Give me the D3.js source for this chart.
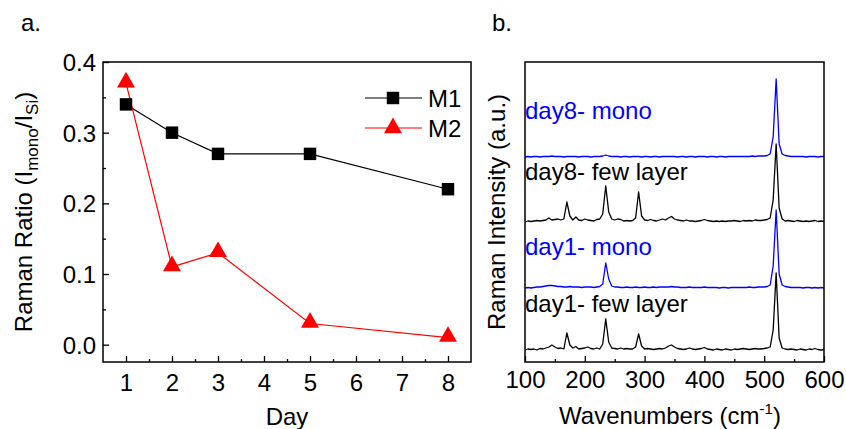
<!DOCTYPE html>
<html>
<head>
<meta charset="utf-8">
<script src="https://cdn.jsdelivr.net/npm/d3@7"></script>
<style>
body { margin: 0; background: #fff; }
svg text { font-family: "Liberation Sans", Arial, sans-serif; }
</style>
</head>
<body>
<svg id="fig" width="846" height="429"></svg>
<script>
// panel a data
var days = [1, 2, 3, 5, 8];
var m1 = [0.34, 0.30, 0.27, 0.27, 0.22];
var m2 = [0.37, 0.11, 0.13, 0.03, 0.01];
var dayTicks = [1, 2, 3, 4, 5, 6, 7, 8];
var ratioTicks = [0.0, 0.1, 0.2, 0.3, 0.4];

// panel b data (intensity, a.u. above each baseline)
var wn = [100,105,110,115,120,125,130,135,140,145,150,155,160,165,170,175,180,185,190,195,
  200,205,210,215,220,225,230,235,240,245,250,255,260,265,270,275,280,285,290,295,
  300,305,310,315,320,325,330,335,340,345,350,355,360,365,370,375,380,385,390,395,
  400,405,410,415,420,425,430,435,440,445,450,455,460,465,470,475,480,485,490,495,
  500,505,510,515,520,525,530,535,540,545,550,555,560,565,570,575,580,585,590,595,600];
var day1Few = [0,1,0.5,1,0,1.5,1,2,3,5,3,1.5,2,1,17,5,2,3.5,1,1.5,
  2,3,1.5,1,2,1,6,31,8,2,1.5,1,2,1,1.5,1,1,3,16,4,
  1,1.5,1,0.5,1,1.5,1,2,4,5,3,1.5,1,0.5,1,2,1,0.5,1,1.5,
  2.5,1,0.5,0,1,0.5,0,1,0.5,0,1,0.5,1,1.5,1,0.5,1,1.5,1,1,
  1.5,2,3,20,77,12,2,1,0.5,1,0.5,0,1,0.5,0,1,0.5,1.5,0.5,0,0.5];
var day1Mono = [0,0.5,0,0.5,1,1,1.5,2,2.5,2.5,2,1.5,1.5,1,1,1.5,1,1,1,0.5,
  1,1,1,0.5,1,1.5,4,25,9,2,1,1,0.5,0.5,1,0.5,0.5,1,0.5,0.5,
  1,0.5,0.5,1,0.5,1,1,1,1,1.5,1,1,0.5,0.5,0.5,1,0.5,0.5,0.5,0.5,
  1,0.5,0.5,0.5,0.5,0,0.5,0.5,0,0.5,0.5,0.5,0.5,0.5,0.5,1,0.5,0.5,1,1,
  1,1.5,3,22,78,14,3,1.5,1,0.5,0.5,0.5,0.5,0,0.5,0.5,0,0.5,0,0.5,0];
var day8Few = [0,1,0.5,1,1.5,1,1.5,2,4,2,2.5,3,2,3,20,6,2,5,2,1.5,
  3,2,1.5,1,2.5,3,8,36,10,3,2,3,2.5,1,1.5,1,1.5,4,30,6,
  2,1.5,2.5,1.5,1,2,3,2,4,5.5,3,2,1.5,1,2,1,1,0.5,1,1.5,
  2.5,1.5,1,0.5,1,0.5,1,0.5,1,1,1.5,1,0.5,1.5,1,1.5,1,2,1.5,1.5,
  2,2.5,4,22,78,14,3,1,1.5,1,0.5,1.5,1,0.5,1,0.5,1,1.5,0.5,1,0.5];
var day8Mono = [0,0.5,0,0.5,0.5,0,0.5,0.5,0.5,1,0.5,0.5,0.5,0,0.5,0.5,0.5,0.5,0,0.5,
  0.5,0.5,0,0.5,0.5,0.5,1,2,1,0.5,0.5,0.5,0,0.5,0.5,0,0.5,0.5,0.5,0,
  0.5,0.5,0,0.5,0.5,0,0.5,0.5,0.5,0.5,0.5,0,0.5,0.5,0,0.5,0.5,0,0.5,0.5,
  0.5,0,0.5,0.5,0,0.5,0.5,0,0.5,0.5,0.5,0.5,0.5,0.5,0.5,0.5,1,0.5,1,1,
  1,1.5,3,20,78,13,3,1.5,1,0.5,0.5,0.5,0.5,0.5,0,0.5,0.5,0.5,0,0.5,0.5];
var spectra = [day1Few, day1Mono, day8Few, day8Mono];
var spectraNames = ["day1- few layer", "day1- mono", "day8- few layer", "day8- mono"];
var spectraOffsets = [12, 74, 140, 205];
var spectraColors = ["#000000", "#0000ff", "#000000", "#0000ff"];
var labelLevels = [50, 107, 182, 243];
var wnTicks = [100, 200, 300, 400, 500, 600];

var svg = d3.select("#fig");
var FS = 24;

// ---------- panel a ----------
var xa = d3.scaleLinear().domain([0.5, 8.5]).range([103, 471]);
var ya = d3.scaleLinear().domain([-0.0245, 0.4]).range([362, 62]);

var ga = svg.append("g");

var axA = d3.axisBottom(xa).tickValues(dayTicks).tickSize(-6).tickPadding(12).tickFormat(d3.format("d"));
var axAminor = d3.axisBottom(xa).tickValues(d3.range(1.5, 8.5, 1)).tickSize(-3).tickFormat("");
var ayA = d3.axisLeft(ya).tickValues(ratioTicks).tickSize(-6).tickPadding(7).tickFormat(d3.format(".1f"));
var ayAminor = d3.axisLeft(ya).tickValues([0.05, 0.15, 0.25, 0.35]).tickSize(-3).tickFormat("");

var styleAxis = function(g){
    g.select(".domain").remove();
    g.selectAll("line").attr("stroke", "#000").attr("stroke-width", 1.3);
    g.selectAll("text").attr("font-size", FS).attr("font-family", "Liberation Sans, Arial, sans-serif").attr("fill", "#000");
};

ga.append("g").attr("transform", "translate(0,362)").call(axA).call(styleAxis);
ga.append("g").attr("transform", "translate(0,362)").call(axAminor).call(styleAxis);
ga.append("g").attr("transform", "translate(103,0)").call(ayA).call(styleAxis);
ga.append("g").attr("transform", "translate(103,0)").call(ayAminor).call(styleAxis);

ga.append("rect").attr("x", 103).attr("y", 62).attr("width", 368).attr("height", 300)
    .attr("fill", "none").attr("stroke", "#000").attr("stroke-width", 1.5);

// fix label baselines
ga.selectAll(".tick text").each(function(){
    var t = d3.select(this);
    if (t.attr("x") != null && +t.attr("x") < 0) { t.attr("dy", "0.36em"); }
    else { t.attr("dy", "0.72em"); }
});

var lineA = d3.line().x(function(d){ return xa(d[0]); }).y(function(d){ return ya(d[1]); });
var ptsM1 = days.map(function(d, i){ return [d, m1[i]]; });
var ptsM2 = days.map(function(d, i){ return [d, m2[i]]; });

ga.append("path").attr("d", lineA(ptsM1)).attr("fill", "none").attr("stroke", "#000").attr("stroke-width", 1.2);
ga.append("path").attr("d", lineA(ptsM2)).attr("fill", "none").attr("stroke", "#ff0000").attr("stroke-width", 1.2);

var sq = d3.symbol().type(d3.symbolSquare).size(155);
var tri = d3.symbol().type(d3.symbolTriangle).size(140);

ga.selectAll(".m1").data(ptsM1).enter().append("path")
    .attr("d", sq).attr("fill", "#000")
    .attr("transform", function(d){ return "translate(" + xa(d[0]) + "," + ya(d[1]) + ")"; });
ga.selectAll(".m2").data(ptsM2).enter().append("path")
    .attr("d", tri).attr("fill", "#ff0000")
    .attr("transform", function(d){ return "translate(" + xa(d[0]) + "," + (ya(d[1]) - 1) + ")"; });

// legend
var legA = [["M1", "#000", sq, 98], ["M2", "#ff0000", tri, 128]];
legA.forEach(function(l){
    ga.append("line").attr("x1", 365).attr("x2", 422).attr("y1", l[3]).attr("y2", l[3])
        .attr("stroke", l[1]).attr("stroke-width", 1.2);
    ga.append("path").attr("d", l[2]).attr("fill", l[1]).attr("transform", "translate(393," + l[3] + ")");
    ga.append("text").attr("x", 428).attr("y", l[3]).attr("dy", "0.36em").attr("font-size", FS).text(l[0]);
});

// titles
ga.append("text").attr("x", 287).attr("y", 425).attr("text-anchor", "middle").attr("font-size", FS).text("Day");
var tA = ga.append("text").attr("transform", "translate(32,212) rotate(-90)").attr("text-anchor", "middle").attr("font-size", FS);
tA.append("tspan").text("Raman Ratio (I");
tA.append("tspan").attr("font-size", 17).attr("dy", 6).text("mono");
tA.append("tspan").attr("dy", -6).text("/I");
tA.append("tspan").attr("font-size", 17).attr("dy", 6).text("Si");
tA.append("tspan").attr("dy", -6).text(")");

svg.append("text").attr("x", 21).attr("y", 31).attr("font-size", FS).text("a.");
svg.append("text").attr("x", 492).attr("y", 31).attr("font-size", FS).text("b.");

// ---------- panel b ----------
var xb = d3.scaleLinear().domain([100, 600]).range([525, 824]);
var yb = d3.scaleLinear().domain([0, 300]).range([362, 62]);
var gb = svg.append("g");

var axB = d3.axisBottom(xb).tickValues(wnTicks).tickSize(-6).tickPadding(9);
var axBminor = d3.axisBottom(xb).tickValues([150, 250, 350, 450, 550]).tickSize(-3).tickFormat("");
gb.append("g").attr("transform", "translate(0,362)").call(axB).call(styleAxis);
gb.append("g").attr("transform", "translate(0,362)").call(axBminor).call(styleAxis);
gb.selectAll(".tick text").attr("dy", "0.72em");

var lineB = d3.line().x(function(d){ return xb(d[0]); }).y(function(d){ return yb(d[1]); });

spectra.forEach(function(s, k){
    var pts = wn.map(function(w, i){ return [w, s[i] + spectraOffsets[k]]; });
    gb.append("path").attr("d", lineB(pts)).attr("fill", "none")
        .attr("stroke", spectraColors[k]).attr("stroke-width", 1.3).attr("stroke-linejoin", "round");
    gb.append("text").attr("x", 525).attr("y", yb(labelLevels[k])).attr("font-size", FS)
        .attr("fill", spectraColors[k]).text(spectraNames[k]);
});

gb.append("rect").attr("x", 525).attr("y", 62).attr("width", 299).attr("height", 300)
    .attr("fill", "none").attr("stroke", "#000").attr("stroke-width", 1.5);

var tB = gb.append("text").attr("x", 670).attr("y", 424).attr("text-anchor", "middle").attr("font-size", FS);
tB.append("tspan").text("Wavenumbers (cm");
tB.append("tspan").attr("font-size", 15).attr("dy", -10).text("-1");
tB.append("tspan").attr("dy", 10).text(")");

gb.append("text").attr("transform", "translate(505,212) rotate(-90)").attr("text-anchor", "middle")
    .attr("font-size", FS).text("Raman Intensity (a.u.)");
</script>
</body>
</html>
